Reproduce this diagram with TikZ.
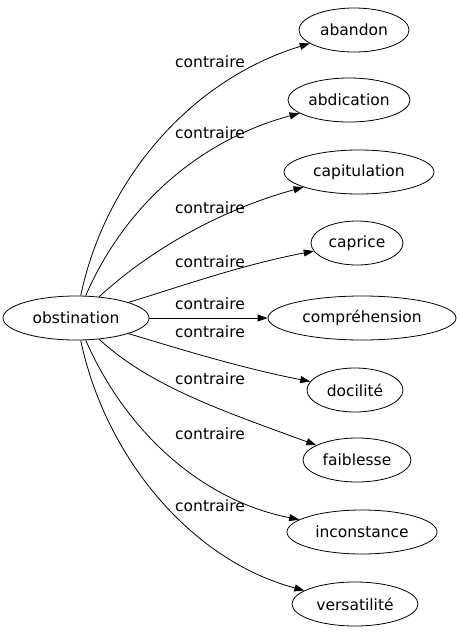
\documentclass[tikz,border=0pt]{standalone}
\usepackage{fontspec}
\setmainfont{DejaVu Sans}
\usetikzlibrary{arrows.meta,shapes.geometric}

\begin{document}
\begin{tikzpicture}[x=1pt, y=-1pt,
  word/.style={ellipse, draw, line width=0.8pt, inner sep=0pt, minimum height=44pt, font=\fontsize{15.5}{17}\selectfont},
  lbl/.style={font=\fontsize{15.5}{17}\selectfont, inner sep=0pt},
  arr/.style={-{Triangle[length=10pt, width=7pt]}, line width=0.8pt}
]
  \useasboundingbox (0,0) rectangle (457,635);
  \node[word, minimum width=146pt] (obst) at (76,318) {obstination};
  \node[word, minimum width=110pt] (abandon) at (354,30) {abandon};
  \node[word, minimum width=122pt] (abdication) at (349,100) {abdication};
  \node[word, minimum width=150pt] (capitulation) at (359,172) {capitulation};
  \node[word, minimum width=92pt]  (caprice) at (357,243) {caprice};
  \node[word, minimum width=188pt] (compre) at (362,318) {compréhension};
  \node[word, minimum width=96pt]  (docilite) at (355,390) {docilité};
  \node[word, minimum width=108pt] (faiblesse) at (357,460) {faiblesse};
  \node[word, minimum width=150pt] (inconstance) at (362,532) {inconstance};
  \node[word, minimum width=126pt] (versatilite) at (355,604) {versatilité};
  % edges
  \draw[arr] (obst) .. controls (105,180) and (190,80) .. (abandon);
  \draw[arr] (obst) .. controls (125,205) and (200,140) .. (abdication);
  \draw[arr] (obst) .. controls (150,250) and (220,210) .. (capitulation);
  \draw[arr] (obst) .. controls (170,290) and (240,265) .. (caprice);
  \draw[arr] (obst) -- (compre);
  \draw[arr] (obst) .. controls (170,346) and (240,368) .. (docilite);
  \draw[arr] (obst) .. controls (150,386) and (220,410) .. (faiblesse);
  \draw[arr] (obst) .. controls (125,430) and (200,500) .. (inconstance);
  \draw[arr] (obst) .. controls (105,456) and (190,560) .. (versatilite);
  % labels
  \node[lbl] (l1) at (210,62) {contraire};
  \node[lbl] (l2) at (210,133) {contraire};
  \node[lbl] (l3) at (210,208) {contraire};
  \node[lbl] (l4) at (210,262) {contraire};
  \node[lbl] (l5) at (210,304) {contraire};
  \node[lbl] (l6) at (210,332) {contraire};
  \node[lbl] (l7) at (210,379) {contraire};
  \node[lbl] (l8) at (210,434) {contraire};
  \node[lbl] (l9) at (210,506) {contraire};
\end{tikzpicture}
\end{document}
